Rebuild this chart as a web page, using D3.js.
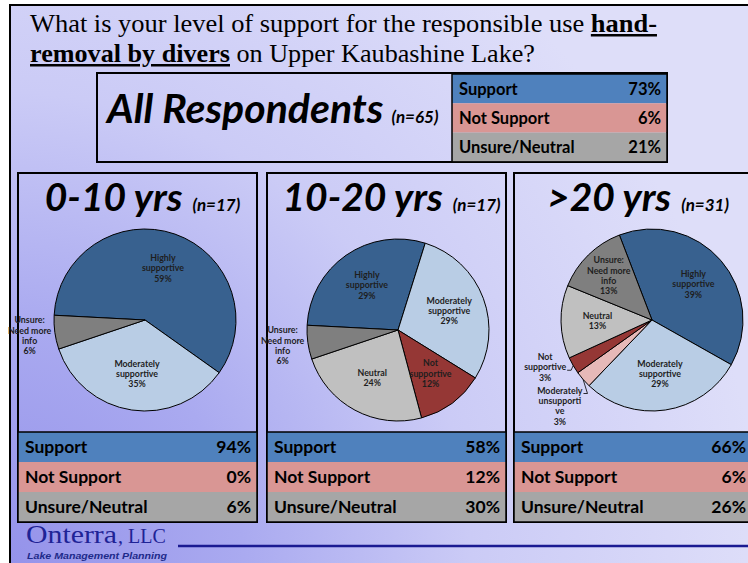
<!DOCTYPE html>
<html>
<head>
<meta charset="utf-8">
<script src="https://cdn.jsdelivr.net/npm/d3@7"></script>
<style>
  html, body { margin: 0; padding: 0; background: #fff; }
  svg { display: block; }
</style>
</head>
<body>
<script>
// ---- Survey data -------------------------------------------------------
const questionPlain1 = "What is your level of support for the responsible use ";
const questionBold1 = "hand-";
const questionBold2 = "removal by divers";
const questionPlain2 = " on Upper Kaubashine Lake?";

const summaryRows = ["Support", "Not Support", "Unsure/Neutral"];
const allRespondentsTitle = "All Respondents";
const allRespondentsN = 65;
const allRespondentsSummary = [73, 6, 21];

const groupTitles = ["0-10 yrs", "10-20 yrs", ">20 yrs"];
const groupN = [17, 17, 31];
const groupSummary = [
  [94, 0, 6],
  [58, 12, 30],
  [66, 6, 26]
];

// Response categories (pie slices), in drawing order
const categories = [
  "Highly supportive",
  "Moderately supportive",
  "Moderately unsupportive",
  "Not supportive",
  "Neutral",
  "Unsure: Need more info"
];
const categoryLines = [
  ["Highly", "supportive"],
  ["Moderately", "supportive"],
  ["Moderately", "unsupporti", "ve"],
  ["Not", "supportive"],
  ["Neutral"],
  ["Unsure:", "Need more", "info"]
];
// Percent of respondents per category, one array per residency group
const pct0to10 = [59, 35, 0, 0, 0, 6];
const pct10to20 = [29, 29, 0, 12, 24, 6];
const pctOver20 = [39, 29, 3, 3, 13, 13];
const groupPct = [pct0to10, pct10to20, pctOver20];

// ---- Styling -----------------------------------------------------------
const W = 748, H = 563;
const sliceColors = ["#38618f", "#b9cde5", "#e6b9b8", "#953735", "#c0c0c0", "#7f7f7f"];
const rowColors = ["#4f81bd", "#d99694", "#a6a6a6"];
const sansFont = "Lato, 'Noto Sans', sans-serif";
const serifFont = "'Liberation Serif', 'DejaVu Serif', serif";

// Panel layout for the three residency groups
const panels = [
  { x: 18, w: 239, cx: 145, cy: 320, start: 273, nudge: {}, labelF: {} },
  { x: 267, w: 239, cx: 398, cy: 330, start: 273, nudge: {}, labelF: {} },
  { x: 514, w: 238, cx: 652, cy: 320, start: 339,
    nudge: { 2: [-4, 10], 3: [-6, -11] }, labelF: { 5: 0.68 } }
];
const panelTop = 173, panelBottom = 522, tableTop = 432;
const pieRadius = 91;

const svg = d3.select("body").append("svg")
  .attr("width", W).attr("height", H);

// Slide background: soft lavender gradient, deeper toward the lower left
const defs = svg.append("defs");
const grad = defs.append("radialGradient")
  .attr("id", "slideBg")
  .attr("gradientUnits", "userSpaceOnUse")
  .attr("cx", 0).attr("cy", 563).attr("r", 760);
[[0, "#9492ea"], [0.32, "#aaaaf0"], [0.62, "#cbcbf6"], [1, "#dedef9"]]
  .forEach(([o, c]) => grad.append("stop").attr("offset", o).attr("stop-color", c));

svg.append("rect")
  .attr("x", 10).attr("y", 5).attr("width", W + 20).attr("height", H + 20)
  .attr("fill", "url(#slideBg)")
  .attr("stroke", "#000").attr("stroke-width", 2);

// ---- Question title ----------------------------------------------------
const t1 = svg.append("text")
  .attr("x", 30).attr("y", 32)
  .attr("font-family", serifFont).attr("font-size", 25).attr("fill", "#000")
  .attr("textLength", 627).attr("lengthAdjust", "spacingAndGlyphs");
t1.append("tspan").text(questionPlain1);
t1.append("tspan").attr("font-weight", "bold")
  .attr("text-decoration", "underline").text(questionBold1);

const t2 = svg.append("text")
  .attr("x", 30).attr("y", 62)
  .attr("font-family", serifFont).attr("font-size", 25).attr("fill", "#000")
  .attr("textLength", 505).attr("lengthAdjust", "spacingAndGlyphs");
t2.append("tspan").attr("font-weight", "bold")
  .attr("text-decoration", "underline").text(questionBold2);
t2.append("tspan").text(questionPlain2);

// ---- Summary table helper ---------------------------------------------
function summaryTable(g, x, y, w, rowH, values, fontSize) {
  const yScale = d3.scaleBand().domain(summaryRows).range([y, y + rowH * summaryRows.length]);
  const rows = g.selectAll("g.row").data(summaryRows).join("g").attr("class", "row");
  rows.append("rect")
    .attr("x", x).attr("y", d => yScale(d))
    .attr("width", w).attr("height", yScale.bandwidth())
    .attr("fill", (d, i) => rowColors[i]);
  rows.append("text")
    .attr("x", x + 7).attr("y", d => yScale(d) + yScale.bandwidth() / 2 + fontSize * 0.36)
    .attr("font-family", sansFont).attr("font-weight", "bold")
    .attr("font-size", fontSize).attr("fill", "#000")
    .text(d => d);
  rows.append("text")
    .attr("x", x + w - 6).attr("y", d => yScale(d) + yScale.bandwidth() / 2 + fontSize * 0.36)
    .attr("text-anchor", "end")
    .attr("font-family", sansFont).attr("font-weight", "bold")
    .attr("font-size", fontSize).attr("fill", "#000")
    .text((d, i) => values[i] + "%");
  g.append("rect")
    .attr("x", x).attr("y", y).attr("width", w).attr("height", rowH * summaryRows.length)
    .attr("fill", "none").attr("stroke", "#000").attr("stroke-width", 1.5);
}

// ---- All respondents box ----------------------------------------------
const allG = svg.append("g");
allG.append("rect")
  .attr("x", 97).attr("y", 73).attr("width", 570).attr("height", 89)
  .attr("fill", "none").attr("stroke", "#000").attr("stroke-width", 2);
const allTitle = allG.append("text")
  .attr("x", 107).attr("y", 123)
  .attr("font-family", sansFont).attr("font-weight", "bold").attr("font-style", "italic")
  .attr("font-size", 41).attr("fill", "#000");
allTitle.append("tspan").text(allRespondentsTitle);
allTitle.append("tspan").attr("font-size", 17).attr("dx", 8).text(`(n=${allRespondentsN})`);
summaryTable(allG.append("g"), 452, 74, 215, 29.3, allRespondentsSummary, 16.5);

// ---- Residency group panels -------------------------------------------
const arc = d3.arc().innerRadius(0).outerRadius(pieRadius);

panels.forEach((p, gi) => {
  const g = svg.append("g");
  g.append("rect")
    .attr("x", p.x).attr("y", panelTop).attr("width", p.w).attr("height", panelBottom - panelTop)
    .attr("fill", "none").attr("stroke", "#000").attr("stroke-width", 2);

  // Panel heading, centred over the panel
  const head = g.append("text")
    .attr("y", 211)
    .attr("font-family", sansFont).attr("font-weight", "bold").attr("font-style", "italic")
    .attr("font-size", 39).attr("fill", "#000");
  head.append("tspan").text(groupTitles[gi]);
  head.append("tspan").attr("font-size", 17).attr("dx", 10).text(`(n=${groupN[gi]})`);
  const hw = head.node().getComputedTextLength();
  head.attr("x", p.x + p.w / 2 - hw / 2);

  // Pie
  const a0 = p.start * Math.PI / 180;
  const pie = d3.pie().sort(null).value(d => d.v)
    .startAngle(a0).endAngle(a0 + 2 * Math.PI);
  const slices = pie(groupPct[gi].map((v, i) => ({ v, i }))).filter(d => d.data.v > 0);
  const pieG = g.append("g").attr("transform", `translate(${p.cx},${p.cy})`);
  pieG.selectAll("path").data(slices).join("path")
    .attr("d", arc)
    .attr("fill", d => sliceColors[d.data.i])
    .attr("stroke", "#000").attr("stroke-width", 1);

  // Data labels: inside for larger slices, outside for small ones
  const lineH = 10.4;
  slices.forEach(d => {
    const small = d.data.v < 10;
    const f = p.labelF[d.data.i] || (small ? 1.28 : 0.6);
    const lr = pieRadius * f;
    const [lx0, ly0] = d3.arc().innerRadius(lr).outerRadius(lr).centroid(d);
    const nudge = p.nudge[d.data.i] || [0, 0];
    const lx = lx0 + nudge[0], ly = ly0 + nudge[1];
    const lines = categoryLines[d.data.i].concat([d.data.v + "%"]);
    const top = ly - (lines.length - 1) * lineH / 2;
    const lbl = pieG.append("text")
      .attr("font-family", sansFont).attr("font-weight", "bold")
      .attr("font-size", 8.8).attr("fill", "#1e1e1e")
      .attr("text-anchor", "middle");
    const spans = lines.map((s, k) => lbl.append("tspan")
      .attr("x", lx).attr("y", top + k * lineH + 3).text(s));

    // Leader line for labels moved away from their slice
    if (nudge[0] !== 0 || nudge[1] !== 0) {
      let widest = 0, wk = 0;
      spans.forEach((sp, k) => {
        const w = sp.node().getComputedTextLength();
        if (w > widest) { widest = w; wk = k; }
      });
      const sx = lx + widest / 2 + 1, sy = top + wk * lineH + 3;
      const mid = (d.startAngle + d.endAngle) / 2;
      const ex = pieRadius * Math.sin(mid), ey = -pieRadius * Math.cos(mid);
      pieG.append("path")
        .attr("d", d3.line()([[sx, sy], [sx + 4, sy], [ex, ey]]))
        .attr("fill", "none").attr("stroke", "#000").attr("stroke-width", 0.8);
    }
  });

  summaryTable(g.append("g"), p.x, tableTop, p.w, (panelBottom - tableTop) / 3, groupSummary[gi], 17.5);
});

// ---- Footer logo -------------------------------------------------------
const logo = svg.append("g");
const onterra = logo.append("text")
  .attr("x", 26).attr("y", 543)
  .attr("font-family", serifFont).attr("fill", "#1f2396");
onterra.append("tspan").attr("font-size", 26).attr("textLength", 91)
  .attr("lengthAdjust", "spacingAndGlyphs").text("Onterra");
onterra.append("tspan").attr("font-size", 20).attr("dx", 1).text(", LLC");
logo.append("text")
  .attr("x", 27).attr("y", 559)
  .attr("font-family", "'Liberation Sans', Arial, sans-serif")
  .attr("font-weight", "bold").attr("font-style", "italic")
  .attr("font-size", 9.5).attr("fill", "#1e2a8a")
  .attr("textLength", 140).attr("lengthAdjust", "spacingAndGlyphs")
  .text("Lake Management Planning");
logo.append("line")
  .attr("x1", 178).attr("x2", W).attr("y1", 546).attr("y2", 546)
  .attr("stroke", "#1a1a92").attr("stroke-width", 2.5);
</script>
</body>
</html>
